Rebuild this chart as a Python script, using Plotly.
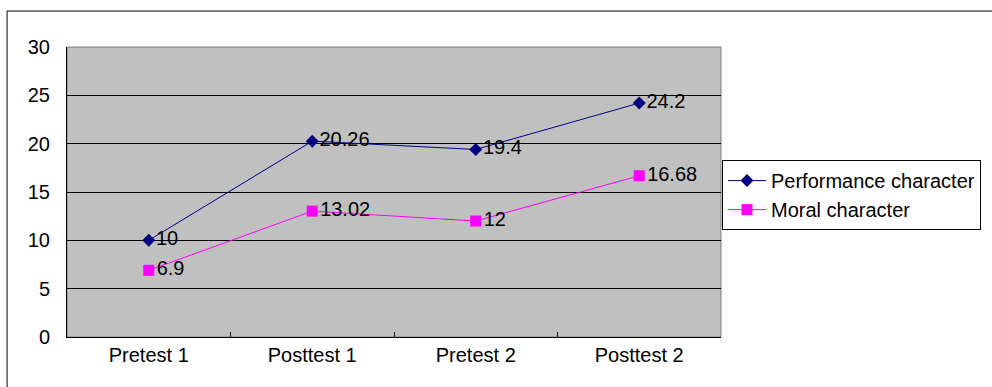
import plotly.graph_objects as go

categories = ["Pretest 1", "Posttest 1", "Pretest 2", "Posttest 2"]
performance = [10, 20.26, 19.4, 24.2]
moral = [6.9, 13.02, 12, 16.68]
performance_labels = ["10", "20.26", "19.4", "24.2"]
moral_labels = ["6.9", "13.02", "12", "16.68"]
y_ticks = [0, 5, 10, 15, 20, 25, 30]

FONT = "Liberation Sans, Arial, sans-serif"
FS = 20

fig = go.Figure()
fig.add_trace(go.Scatter(
    x=categories, y=performance, name="Performance character",
    mode="lines+markers+text", text=performance_labels, textposition="middle right",
    textfont=dict(family=FONT, size=FS, color="black"),
    line=dict(color="#000080", width=1),
    marker=dict(symbol="diamond", size=10, color="#000080"),
    cliponaxis=False,
))
fig.add_trace(go.Scatter(
    x=categories, y=moral, name="Moral character",
    mode="lines+markers+text", text=moral_labels, textposition="middle right",
    textfont=dict(family=FONT, size=FS, color="black"),
    line=dict(color="#FF00FF", width=1),
    marker=dict(symbol="square", size=11, color="#FF00FF"),
    cliponaxis=False,
))

fig.update_layout(
    width=992, height=387,
    margin=dict(l=67, r=270, t=47, b=50),
    paper_bgcolor="white",
    plot_bgcolor="#C0C0C0",
    font=dict(family=FONT, size=FS, color="black"),
    showlegend=True,
    legend=dict(
        x=1.0, xanchor="left", y=0.61, yanchor="top",
        bordercolor="black", borderwidth=1, bgcolor="white",
        font=dict(family=FONT, size=FS, color="black"),
        tracegroupgap=0, itemwidth=38,
    ),
    xaxis=dict(
        type="category", range=[-0.5, 3.5],
        showgrid=False, zeroline=False,
        showline=True, linecolor="black", linewidth=1,
        ticks="inside", tickson="boundaries", ticklen=5, tickcolor="black",
        tickfont=dict(family=FONT, size=FS, color="black"),
    ),
    yaxis=dict(
        range=[0, 30], tickvals=y_ticks,
        showgrid=True, gridcolor="black", gridwidth=1, zeroline=False,
        showline=True, linecolor="black", linewidth=1,
        ticks="inside", ticklen=5, tickcolor="black",
        tickfont=dict(family=FONT, size=FS, color="black"),
        ticklabelstandoff=12,
    ),
    shapes=[
        dict(type="rect", xref="paper", yref="paper", x0=0, x1=1, y0=0, y1=1,
             line=dict(color="#808080", width=1), fillcolor="rgba(0,0,0,0)", layer="below"),
        dict(type="rect", xref="paper", yref="paper", x0=-0.0916, x1=1.6, y0=-0.3, y1=1.124,
             line=dict(color="black", width=1), fillcolor="rgba(0,0,0,0)", layer="below"),
    ],
)

fig.write_html("out.html")
